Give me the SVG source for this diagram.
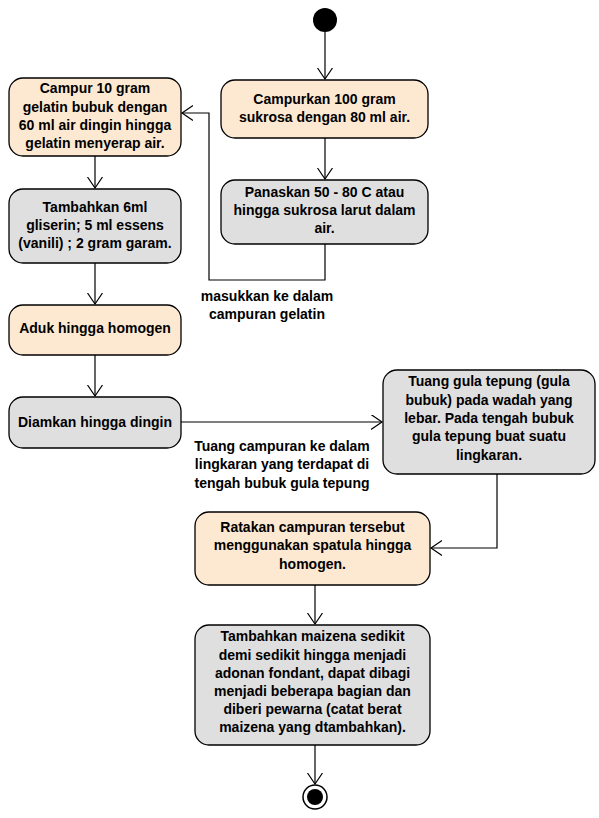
<svg xmlns="http://www.w3.org/2000/svg" width="599" height="818" viewBox="0 0 599 818">
<style>
.n{stroke:#000;stroke-width:1.3}
.o{fill:#fde9d2}
.g{fill:#dfdfdf}
text{font-family:"Liberation Sans",Arial,sans-serif;font-weight:bold;font-size:14px;fill:#000;text-anchor:middle}
.c{fill:none;stroke:#000;stroke-width:1.2}
</style>
<defs>
<marker id="a" markerUnits="userSpaceOnUse" markerWidth="14" markerHeight="16" refX="11" refY="7.5" orient="auto">
<path d="M0,0 L11,7.5 L0,15" fill="none" stroke="#000" stroke-width="1.2"/>
</marker>
</defs>
<g id="connectors">
<path class="c" d="M325,32 V79" marker-end="url(#a)"/>
<path class="c" d="M325,138 V179" marker-end="url(#a)"/>
<path class="c" d="M325,244 V280 H209 V113 H182" marker-end="url(#a)"/>
<path class="c" d="M95,156 V188" marker-end="url(#a)"/>
<path class="c" d="M95,263 V304" marker-end="url(#a)"/>
<path class="c" d="M95,355 V396" marker-end="url(#a)"/>
<path class="c" d="M181,422 H382" marker-end="url(#a)"/>
<path class="c" d="M497,474 V548 H431" marker-end="url(#a)"/>
<path class="c" d="M315,585 V624" marker-end="url(#a)"/>
<path class="c" d="M315,745 V784" marker-end="url(#a)"/>
<text x="267" y="301">masukkan ke dalam</text>
<text x="267" y="319">campuran gelatin</text>
<text x="282" y="451">Tuang campuran ke dalam</text>
<text x="282" y="469">lingkaran yang terdapat di</text>
<text x="282" y="488">tengah bubuk gula tepung</text>
</g>
<g id="start"><circle cx="325" cy="20" r="12" fill="#000"/></g>
<g id="n1"><rect class="n o" x="221" y="80" width="207" height="58" rx="14"/>
<text x="324.5" y="104">Campurkan 100 gram</text>
<text x="324.5" y="122">sukrosa dengan 80 ml air.</text></g>
<g id="n2"><rect class="n g" x="221" y="180" width="207" height="64" rx="14"/>
<text x="324.5" y="197">Panaskan 50 - 80 C atau</text>
<text x="324.5" y="215">hingga sukrosa larut dalam</text>
<text x="324.5" y="233">air.</text></g>
<g id="n3"><rect class="n o" x="9" y="78" width="172" height="78" rx="14"/>
<text x="95" y="93">Campur 10 gram</text>
<text x="95" y="112">gelatin bubuk dengan</text>
<text x="95" y="130">60 ml air dingin hingga</text>
<text x="95" y="148">gelatin menyerap air.</text></g>
<g id="n4"><rect class="n g" x="9" y="189" width="172" height="74" rx="14"/>
<text x="95" y="212">Tambahkan 6ml</text>
<text x="95" y="230">gliserin; 5 ml essens</text>
<text x="95" y="248">(vanili) ; 2 gram garam.</text></g>
<g id="n5"><rect class="n o" x="9" y="305" width="172" height="50" rx="14"/>
<text x="95" y="333">Aduk hingga homogen</text></g>
<g id="n6"><rect class="n g" x="9" y="397" width="172" height="51" rx="14"/>
<text x="95" y="427">Diamkan hingga dingin</text></g>
<g id="n7"><rect class="n g" x="383" y="370" width="212" height="104" rx="14"/>
<text x="489" y="386">Tuang gula tepung (gula</text>
<text x="489" y="405">bubuk) pada wadah yang</text>
<text x="489" y="423">lebar. Pada tengah bubuk</text>
<text x="489" y="441">gula tepung buat suatu</text>
<text x="489" y="460">lingkaran.</text></g>
<g id="n8"><rect class="n o" x="195" y="512" width="235" height="73" rx="14"/>
<text x="312.5" y="532">Ratakan campuran tersebut</text>
<text x="312.5" y="550">menggunakan spatula hingga</text>
<text x="312.5" y="569">homogen.</text></g>
<g id="n9"><rect class="n g" x="195" y="625" width="235" height="120" rx="14"/>
<text x="312.5" y="641">Tambahkan maizena sedikit</text>
<text x="312.5" y="660">demi sedikit hingga menjadi</text>
<text x="312.5" y="678">adonan fondant, dapat dibagi</text>
<text x="312.5" y="696">menjadi beberapa bagian dan</text>
<text x="312.5" y="714">diberi pewarna (catat berat</text>
<text x="312.5" y="732">maizena yang dtambahkan).</text></g>
<g id="end"><circle cx="315" cy="797" r="12" fill="#fff" stroke="#000" stroke-width="1.5"/><circle cx="315" cy="797" r="8" fill="#000"/></g>
</svg>
